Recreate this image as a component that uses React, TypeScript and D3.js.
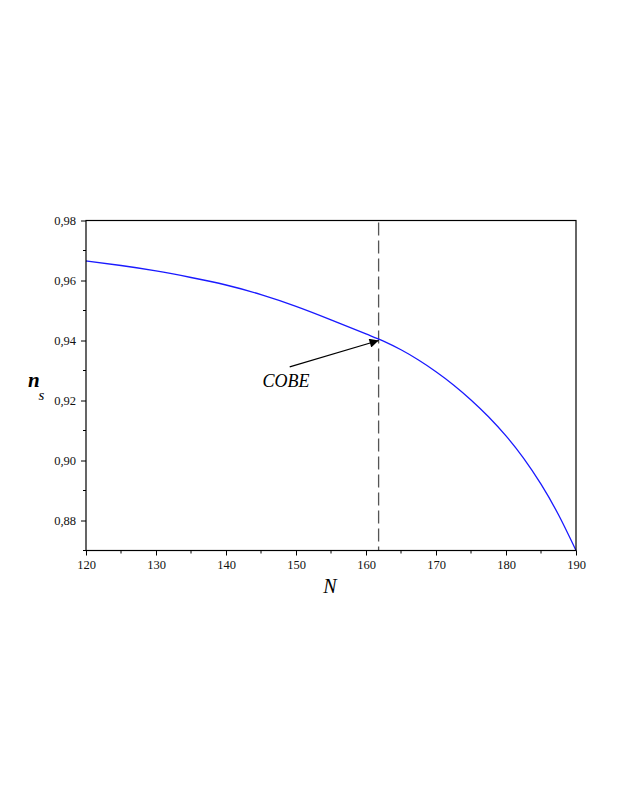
import * as d3 from "d3";
import { useRef, useEffect } from "react";

// N values
const nValues = [120, 125, 130, 135, 140, 145, 150, 155, 160, 162.5, 165, 167.5, 170, 172.5, 175, 177.5, 180, 182.5, 185, 187.5, 190];
// spectral index n_s at each N
const nsValues = [0.9665, 0.965, 0.9632, 0.961, 0.9585, 0.9553, 0.9514, 0.9469, 0.9422, 0.9398, 0.9369, 0.9335, 0.9296, 0.9252, 0.9202, 0.9146, 0.9082, 0.9008, 0.8921, 0.8819, 0.87];

// axis ticks
const xTicks = [120, 130, 140, 150, 160, 170, 180, 190];
const xMinorTicks = [125, 135, 145, 155, 165, 175, 185];
const yTicks = [0.88, 0.9, 0.92, 0.94, 0.96, 0.98];
const yMinorTicks = [0.87, 0.89, 0.91, 0.93, 0.95, 0.97];

// COBE marker and arrow (data units)
const cobeN = 161.8;
const arrowFrom = [149.1, 0.9312];
const arrowTo = [161.8, 0.94];

export default function App() {
    const svgRef = useRef<SVGSVGElement>(null);

    useEffect(() => {
        const svg = d3.select(svgRef.current);
        svg.selectAll("*").remove();

        const margin = { left: 86, top: 220.5, right: 576, bottom: 550.5 };
        const font = "'Liberation Serif', 'Times New Roman', serif";

        const x = d3.scaleLinear().domain([120, 190]).range([margin.left, margin.right]);
        const y = d3.scaleLinear().domain([0.87, 0.98]).range([margin.bottom, margin.top]);

        // arrow marker
        svg.append("defs").append("marker")
            .attr("id", "arrowhead").attr("viewBox", "0 0 10 10")
            .attr("refX", 10).attr("refY", 5)
            .attr("markerWidth", 13).attr("markerHeight", 9)
            .attr("markerUnits", "userSpaceOnUse")
            .attr("orient", "auto")
            .append("path").attr("d", "M0,0 L10,5 L0,10 Z").attr("fill", "black");

        // dashed COBE line
        svg.append("line")
            .attr("x1", x(cobeN)).attr("x2", x(cobeN))
            .attr("y1", y(0.98) - 2).attr("y2", y(0.87))
            .attr("stroke", "#555").attr("stroke-width", 1.3)
            .attr("stroke-dasharray", "13,5").attr("stroke-dashoffset", -4);

        // curve
        const line = d3.line<number>()
            .x((_, i) => x(nValues[i]))
            .y(d => y(d))
            .curve(d3.curveNatural);
        svg.append("path").datum(nsValues)
            .attr("d", line)
            .attr("fill", "none").attr("stroke", "#1a1aff").attr("stroke-width", 1.3);

        // frame
        svg.append("rect")
            .attr("x", margin.left).attr("y", margin.top)
            .attr("width", margin.right - margin.left).attr("height", margin.bottom - margin.top)
            .attr("fill", "none").attr("stroke", "black").attr("stroke-width", 1.2);

        // x axis
        const gx = svg.append("g").attr("transform", `translate(0,${margin.bottom})`);
        gx.call(d3.axisBottom(x).tickValues(xTicks).tickSize(5).tickPadding(5).tickFormat(d3.format("d")))
            .call(g => g.select(".domain").remove());
        gx.selectAll("text").attr("font-family", font).attr("font-size", 12.5).attr("fill", "#111");
        gx.selectAll(".minor").data(xMinorTicks).enter().append("line")
            .attr("x1", d => x(d)).attr("x2", d => x(d)).attr("y1", 0).attr("y2", 3).attr("stroke", "black");

        // y axis
        const gy = svg.append("g").attr("transform", `translate(${margin.left},0)`);
        gy.call(d3.axisLeft(y).tickValues(yTicks).tickSize(5).tickPadding(5).tickFormat(d => d3.format(".2f")(d as number).replace(".", ",")))
            .call(g => g.select(".domain").remove());
        gy.selectAll("text").attr("font-family", font).attr("font-size", 12.5).attr("fill", "#111");
        gy.selectAll(".minor").data(yMinorTicks).enter().append("line")
            .attr("x1", -3).attr("x2", 0).attr("y1", d => y(d)).attr("y2", d => y(d)).attr("stroke", "black");

        // axis labels
        svg.append("text").attr("x", 330).attr("y", 593).attr("text-anchor", "middle")
            .attr("font-family", font).attr("font-style", "italic").attr("font-size", 20).text("N");
        svg.append("text").attr("x", 28).attr("y", 387)
            .attr("font-family", font).attr("font-style", "italic").attr("font-weight", "bold").attr("font-size", 21).text("n");
        svg.append("text").attr("x", 38.5).attr("y", 400)
            .attr("font-family", font).attr("font-style", "italic").attr("font-size", 15).text("s");

        // COBE annotation
        svg.append("line")
            .attr("x1", x(arrowFrom[0])).attr("y1", y(arrowFrom[1]))
            .attr("x2", x(arrowTo[0])).attr("y2", y(arrowTo[1]))
            .attr("stroke", "black").attr("stroke-width", 1.2)
            .attr("marker-end", "url(#arrowhead)");
        svg.append("text").attr("x", 262.5).attr("y", 386.5)
            .attr("font-family", font).attr("font-style", "italic").attr("font-size", 18).text("COBE");
    }, []);

    return (
        <svg ref={svgRef} width={627} height={811}
            style={{ position: "absolute", left: 0, top: 0, background: "white" }} />
    );
}
